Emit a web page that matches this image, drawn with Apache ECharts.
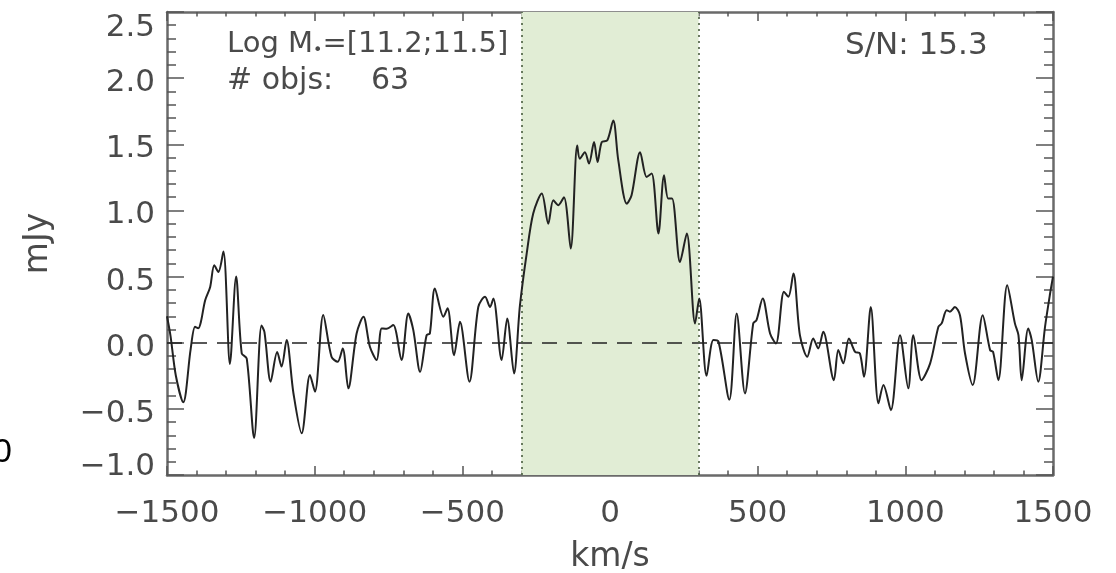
<!DOCTYPE html>
<html><head><meta charset="utf-8">
<script src="https://cdn.jsdelivr.net/npm/echarts@6/dist/echarts.min.js"></script>
<style>html,body{margin:0;padding:0;background:#fff}#c{width:1116px;height:573px}</style>
</head><body><div id="c"></div>
<script>
// Stacked spectrum: velocity (km/s) vs flux density (mJy)
const velocity = [-1500,-1488,-1470,-1445,-1420,-1405,-1394,-1385,-1371,-1354,-1340,-1326,-1309,-1287,-1266,-1247,-1230,-1205,-1180,-1170,-1149,-1127,-1112,-1095,-1072,-1044,-1016,-999,-971,-943,-922,-905,-886,-858,-835,-813,-790,-773,-756,-734,-706,-683,-666,-643,-621,-610,-593,-564,-550,-528,-508,-476,-446,-423,-406,-395,-367,-348,-325,-305,-282,-260,-231,-209,-192,-175,-156,-133,-111,-102,-85,-71,-54,-42,-28,-9,11,28,57,73,102,124,141,164,183,197,210,237,260,288,302,327,350,367,404,429,457,485,496,517,542,562,589,604,621,643,668,688,705,722,758,773,790,809,830,846,860,883,909,926,951,982,1010,1027,1055,1084,1112,1123,1140,1151,1168,1185,1202,1228,1262,1287,1297,1315,1345,1371,1383,1394,1416,1428,1450,1473,1490,1500];
const flux = [0.20,0.05,-0.25,-0.45,-0.05,0.12,0.11,0.16,0.32,0.42,0.585,0.535,0.69,-0.16,0.50,-0.08,-0.12,-0.72,0.13,0.08,-0.295,-0.07,-0.18,0.02,-0.38,-0.685,-0.245,-0.37,0.21,-0.106,-0.144,-0.043,-0.345,0.07,0.196,-0.03,-0.131,0.108,0.105,0.133,-0.131,0.221,0.095,-0.22,0.057,0.07,0.41,0.196,0.26,-0.094,0.158,-0.295,0.27,0.347,0.27,0.335,-0.131,0.183,-0.232,0.28,0.675,0.977,1.128,0.90,1.077,1.04,1.10,0.712,1.49,1.39,1.44,1.354,1.517,1.366,1.517,1.53,1.68,1.38,1.05,1.115,1.44,1.253,1.28,0.826,1.266,1.09,1.09,0.61,0.826,0.146,0.335,-0.25,0.02,0.01,-0.43,0.221,-0.383,0.146,0.17,0.335,0.07,-0.005,0.385,0.347,0.523,0.057,-0.106,0.032,-0.043,0.082,-0.283,-0.056,-0.156,0.032,-0.069,-0.08,-0.257,0.27,-0.458,-0.32,-0.51,0.057,-0.345,0.057,-0.283,-0.156,0.12,0.146,0.246,0.235,0.27,0.208,-0.08,-0.32,0.208,-0.056,-0.069,-0.283,0.435,0.146,0.057,-0.283,0.108,0.02,-0.295,0.12,0.37,0.5];
const lineWindow = [-300, 300];      // integration window (km/s)
const xRange = [-1500, 1500];
const yRange = [-1.0, 2.5];
const massBin = '[11.2;11.5]';
const objCount = 63;
const signalToNoise = 15.3;

const FONT = 'DejaVu Sans';
const FS = 31;
const TXT = '#4a4a4a';
const minus = s => String(s).replace('-', '\u2212');

const chart = echarts.init(document.getElementById('c'), null, {renderer: 'canvas'});
const axisLineStyle = {show: true, onZero: false, lineStyle: {color: '#6a6a6a', width: 2.5}};
const xTicks = {show: true, inside: true, length: 9, lineStyle: {color: '#555', width: 1.5}};
const xMinor = {show: true, splitNumber: 5, length: 4.5, lineStyle: {color: '#555', width: 1.5}};
const yTicks = {show: true, inside: true, length: 17, lineStyle: {color: '#555', width: 1.5}};
const yMinor = {show: true, splitNumber: 5, length: 9, lineStyle: {color: '#555', width: 1.5}};
const lbl = {fontSize: FS, fontFamily: FONT, color: TXT};

const option = {
  animation: false,
  backgroundColor: '#fff',
  grid: {left: 167, top: 12, width: 886, height: 463, containLabel: false, outerBoundsMode: 'none'},
  xAxis: [{
    type: 'value', min: xRange[0], max: xRange[1], interval: 500, position: 'bottom',
    axisLine: axisLineStyle, splitLine: {show: false},
    axisTick: xTicks, minorTick: xMinor,
    axisLabel: {show: true, margin: 23, ...lbl, formatter: v => minus(v)},
    name: 'km/s', nameLocation: 'middle', nameGap: 66,
    nameTextStyle: {fontSize: 33, fontFamily: FONT, color: TXT}
  }, {
    type: 'value', min: xRange[0], max: xRange[1], interval: 500, position: 'top',
    axisLine: axisLineStyle, splitLine: {show: false},
    axisTick: xTicks, minorTick: xMinor,
    axisLabel: {show: false}
  }],
  yAxis: [{
    type: 'value', min: yRange[0], max: yRange[1], interval: 0.5, position: 'left',
    axisLine: axisLineStyle, splitLine: {show: false},
    axisTick: yTicks, minorTick: yMinor,
    axisLabel: {show: true, margin: 12, ...lbl,
      formatter: v => {
        const s = minus(v.toFixed(1));
        if (Math.abs(v - yRange[0]) < 1e-9) return '{lo|' + s + '}';
        if (Math.abs(v - yRange[1]) < 1e-9) return '{hi|' + s + '}';
        return '{n|' + s + '}';
      },
      rich: {
        n: {...lbl, padding: [10, 0, 0, 0]},
        lo: {...lbl, padding: [0, 0, 16, 0]},
        hi: {...lbl, padding: [32, 0, 0, 0]}
      }},
    name: 'mJy', nameLocation: 'middle', nameGap: 112, nameRotate: 90,
    nameTextStyle: {fontSize: 33, fontFamily: FONT, color: TXT}
  }, {
    type: 'value', min: yRange[0], max: yRange[1], interval: 0.5, position: 'right',
    axisLine: axisLineStyle, splitLine: {show: false},
    axisTick: yTicks, minorTick: yMinor,
    axisLabel: {show: false}
  }],
  series: [{
    type: 'line', xAxisIndex: 0, yAxisIndex: 0,
    data: velocity.map((v, i) => [v, flux[i]]),
    showSymbol: false, smooth: 0.3, clip: true, z: 5,
    lineStyle: {color: '#222', width: 2},
    markArea: {
      silent: true, z: 1,
      itemStyle: {color: '#e1edd5'},
      data: [[{xAxis: lineWindow[0]}, {xAxis: lineWindow[1]}]]
    },
    markLine: {
      silent: true, symbol: 'none', animation: false,
      label: {show: false},
      data: [
        {yAxis: 0, lineStyle: {color: '#222', width: 1.6, type: [15, 10]}},
        {xAxis: lineWindow[0], lineStyle: {color: '#4a5e40', width: 1.6, type: [2, 4]}},
        {xAxis: lineWindow[1], lineStyle: {color: '#4a5e40', width: 1.6, type: [2, 4]}}
      ]
    }
  }],
  graphic: [
    {type: 'text', x: 227, y: 44, z: 10, style: {
      text: '{a|Log M}{s|\u2022}{a|=' + massBin + '}',
      verticalAlign: 'middle',
      rich: {
        a: {fontSize: 29, fontFamily: FONT, fill: TXT},
        s: {fontSize: 16, fontFamily: FONT, fill: TXT, padding: [14, 0, 0, 0]}
      }
    }},
    {type: 'text', x: 227, y: 81, z: 10, style: {text: '# objs:', fontSize: 30, fontFamily: FONT, fill: TXT, verticalAlign: 'middle'}},
    {type: 'text', x: 371, y: 81, z: 10, style: {text: String(objCount), fontSize: 30, fontFamily: FONT, fill: TXT, verticalAlign: 'middle'}},
    {type: 'text', x: 845, y: 46, z: 10, style: {text: 'S/N: ' + signalToNoise.toFixed(1), fontSize: FS, fontFamily: FONT, fill: TXT, verticalAlign: 'middle'}},
    {type: 'text', x: 12, y: 453, z: 10, style: {text: '0', fontSize: 34, fontFamily: 'Liberation Sans', fill: '#000', align: 'right', verticalAlign: 'middle'}}
  ]
};
chart.setOption(option);
</script>
</body></html>
